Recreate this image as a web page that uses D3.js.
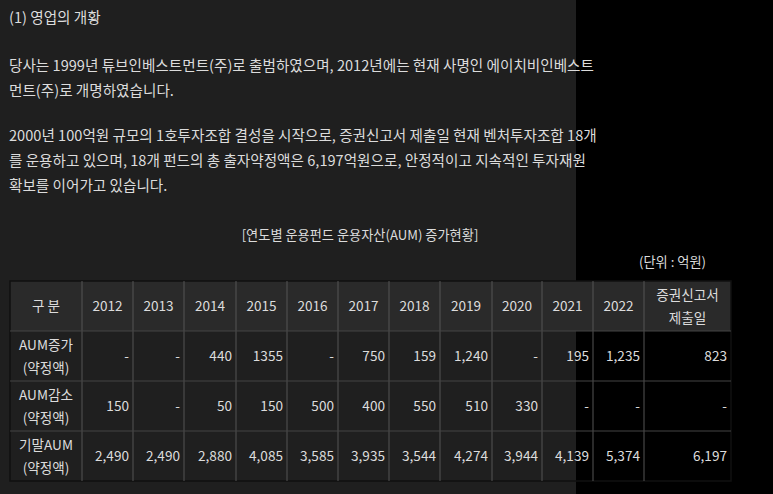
<!DOCTYPE html>
<html><head><meta charset="utf-8">
<script src="https://cdn.jsdelivr.net/npm/d3@7/dist/d3.min.js"></script>
<style>body{margin:0;background:#000}</style></head>
<body><svg id="c" width="773" height="494"></svg>
<script>
const paragraphs = [
  "(1) 영업의 개황",
  "당사는 1999년 튜브인베스트먼트(주)로 출범하였으며, 2012년에는 현재 사명인 에이치비인베스트",
  "먼트(주)로 개명하였습니다.",
  "2000년 100억원 규모의 1호투자조합 결성을 시작으로, 증권신고서 제출일 현재 벤처투자조합 18개",
  "를 운용하고 있으며, 18개 펀드의 총 출자약정액은 6,197억원으로, 안정적이고 지속적인 투자재원",
  "확보를 이어가고 있습니다."
];
const lineY = [18, 66, 91, 136, 161, 186];
const tableTitle = "[연도별 운용펀드 운용자산(AUM) 증가현황]";
const unitLabel = "(단위 : 억원)";
const headers = ["구 분","2012","2013","2014","2015","2016","2017","2018","2019","2020","2021","2022","증권신고서|제출일"];
const rowLabels = ["AUM증가|(약정액)","AUM감소|(약정액)","기말AUM|(약정액)"];
const aumIncrease = ["-","-","440","1355","-","750","159","1,240","-","195","1,235","823"];
const aumDecrease = ["150","-","50","150","500","400","550","510","330","-","-","-"];
const aumEnd = ["2,490","2,490","2,880","4,085","3,585","3,935","3,544","4,274","3,944","4,139","5,374","6,197"];
const rows = [aumIncrease, aumDecrease, aumEnd];

const svg = d3.select("#c");
const font = "'Noto Sans CJK KR','Noto Sans',sans-serif";
svg.append("rect").attr("width",576).attr("height",494).attr("fill","#1f1f1f");
svg.append("rect").attr("x",576).attr("width",197).attr("height",494).attr("fill","#000");
const col = "#dcdcdc";
svg.selectAll("text.p").data(paragraphs).join("text")
  .attr("x",9).attr("y",(d,i)=>lineY[i]+5).text(d=>d)
  .attr("fill",col).attr("font-family",font).attr("font-size",14.6);
svg.append("text").attr("x",360).attr("y",240).attr("text-anchor","middle").text(tableTitle)
  .attr("fill",col).attr("font-family",font).attr("font-size",13.2);
svg.append("text").attr("x",706).attr("y",267).attr("text-anchor","end").text(unitLabel)
  .attr("fill",col).attr("font-family",font).attr("font-size",13.2);

const edges = [10,82,133,184,236,287,338,389,440,492,542,593,644,731];
const rowEdges = [281,331,381,431,481];
const g = svg.append("g");
g.append("rect").attr("x",10).attr("y",281).attr("width",721).attr("height",50).attr("fill","#2a2a2a");
g.append("rect").attr("x",10).attr("y",281).attr("width",721).attr("height",200).attr("fill","none").attr("stroke","#111").attr("stroke-width",1.5);
edges.slice(1,-1).forEach(x=>g.append("line").attr("x1",x).attr("x2",x).attr("y1",281).attr("y2",481).attr("stroke","#555"));
rowEdges.slice(1,-1).forEach(y=>g.append("line").attr("x1",10).attr("x2",731).attr("y1",y).attr("y2",y).attr("stroke","#444"));
function multi(x,yc,txt,anchor){
  const parts = txt.split("|");
  parts.forEach((p,i)=>g.append("text").attr("x",x).attr("y",yc+(i-(parts.length-1)/2)*23+5)
    .attr("text-anchor",anchor).text(p).attr("fill",col).attr("font-family",font).attr("font-size",13.6));
}
headers.forEach((h,i)=>multi((edges[i]+edges[i+1])/2,306,h,"middle"));
rowLabels.forEach((r,j)=>{
  const yc=(rowEdges[j+1]+rowEdges[j+2])/2;
  multi((edges[0]+edges[1])/2,yc,r,"middle");
  rows[j].forEach((v,i)=>multi(edges[i+2]-4,yc,v,"end"));
});
</script></body></html>
